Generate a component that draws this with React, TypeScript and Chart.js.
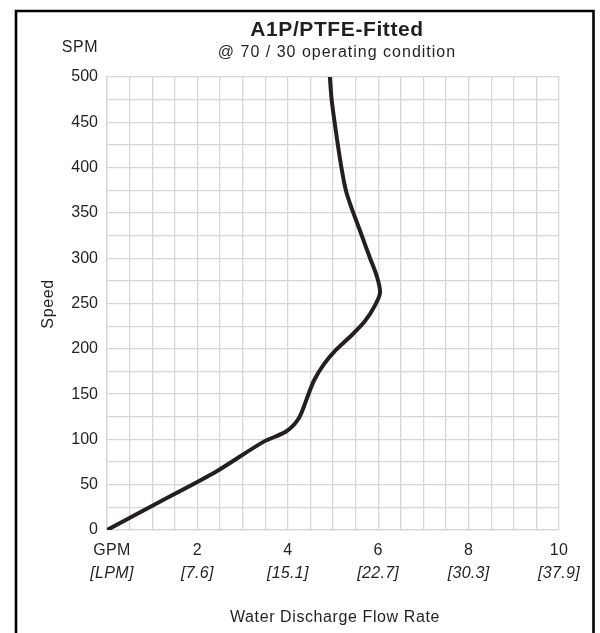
import { useEffect, useRef } from "react";
import { Chart, registerables } from "chart.js";

Chart.register(...registerables);

// Curve points (GPM, SPM)
const flowGPM = [0, 1.2, 2.4, 3.45, 3.97, 4.24, 4.42, 4.58, 4.8, 5.07, 5.37, 5.7, 5.93, 6.04, 5.97, 5.82, 5.6, 5.3, 5.17, 5.05, 4.97, 4.93];
const speedSPM = [0, 32, 64, 97, 109, 123, 145, 165, 183, 199, 213, 230, 248, 262, 280, 300, 330, 372, 405, 445, 475, 500];

const xTickValues = [0, 2, 4, 6, 8, 10];
const xTickGPM = ["GPM", "2", "4", "6", "8", "10"];
const xTickLPM = ["[LPM]", "[7.6]", "[15.1]", "[22.7]", "[30.3]", "[37.9]"];

const titleText = "A1P/PTFE-Fitted";
const subtitleText = "@ 70 / 30 operating condition";
const yUnitText = "SPM";
const yAxisText = "Speed";
const xAxisText = "Water Discharge Flow Rate";

const FONT = "'Liberation Sans', Arial, Helvetica, sans-serif";
const INK = "#231f20";
const GRID = "#d6d6d6";

const decorPlugin = {
  id: "decor",
  afterDraw(chart: any) {
    const ctx = chart.ctx as CanvasRenderingContext2D;
    const xs = chart.scales.x;
    const area = chart.chartArea;
    ctx.save();
    // frame
    ctx.strokeStyle = "#000";
    ctx.lineWidth = 2.6;
    ctx.beginPath();
    ctx.moveTo(16, 700);
    ctx.lineTo(16, 11);
    ctx.lineTo(593.5, 11);
    ctx.lineTo(593.5, 700);
    ctx.stroke();

    const cx = (area.left + area.right) / 2 + 4;
    ctx.fillStyle = INK;
    ctx.textAlign = "center";
    ctx.textBaseline = "middle";
    (ctx as any).letterSpacing = "0.6px";
    ctx.font = `bold 21px ${FONT}`;
    ctx.fillText(titleText, cx, 30);
    ctx.font = `16px ${FONT}`;
    (ctx as any).letterSpacing = "1px";
    ctx.fillText(subtitleText, cx, 53);

    (ctx as any).letterSpacing = "0.5px";
    ctx.textAlign = "right";
    ctx.fillText(yUnitText, 98, 48);

    // x tick labels (two rows)
    ctx.textAlign = "center";
    (ctx as any).letterSpacing = "0.3px";
    xTickValues.forEach((v, i) => {
      const px = xs.getPixelForValue(v) + (i === 0 ? 5 : 0);
      ctx.font = `16px ${FONT}`;
      ctx.fillText(xTickGPM[i], px, 551);
      ctx.font = `italic 16px ${FONT}`;
      ctx.fillText(xTickLPM[i], px, 574);
    });

    ctx.font = `16px ${FONT}`;
    (ctx as any).letterSpacing = "0.6px";
    ctx.fillText(xAxisText, cx - 2, 618);

    ctx.translate(49, 304);
    ctx.rotate(-Math.PI / 2);
    ctx.fillText(yAxisText, 0, 0);
    ctx.restore();
  },
};

export default function App() {
  const ref = useRef<HTMLCanvasElement | null>(null);
  useEffect(() => {
    if (!ref.current) return;
    const chart = new Chart(ref.current, {
      type: "scatter",
      data: {
        datasets: [
          {
            data: flowGPM.map((x, i) => ({ x, y: speedSPM[i] })),
            showLine: true,
            borderColor: INK,
            borderWidth: 4,
            pointRadius: 0,
            tension: 0.3,
            borderCapStyle: "round",
            borderJoinStyle: "round",
          } as any,
        ],
      },
      options: {
        responsive: false,
        animation: false,
        layout: { padding: { top: 77, right: 41, left: 0, bottom: 0 } },
        plugins: { legend: { display: false }, tooltip: { enabled: false }, title: { display: false } },
        scales: {
          x: {
            type: "linear",
            min: 0,
            max: 10,
            ticks: { stepSize: 0.5, display: false },
            grid: { color: GRID, lineWidth: 1.3, drawTicks: false },
            border: { color: GRID, width: 1.3 },
            afterFit: (s: any) => {
              s.height = 103;
            },
          },
          y: {
            type: "linear",
            min: 0,
            max: 500,
            ticks: {
              stepSize: 25,
              autoSkip: false,
              padding: 9,
              color: INK,
              font: { family: FONT, size: 16 },
              callback: (v: any) => (Number(v) % 50 === 0 ? String(v) : ""),
            },
            grid: { color: GRID, lineWidth: 1.3, drawTicks: false },
            border: { color: GRID, width: 1.3 },
            afterFit: (s: any) => {
              s.width = 107;
            },
          },
        },
      },
      plugins: [decorPlugin],
    });
    return () => chart.destroy();
  }, []);
  return (
    <div style={{ position: "absolute", left: 0, top: 0, width: 600, height: 633, background: "#fff" }}>
      <canvas ref={ref} width={600} height={633} style={{ width: 600, height: 633, display: "block" }} />
    </div>
  );
}
